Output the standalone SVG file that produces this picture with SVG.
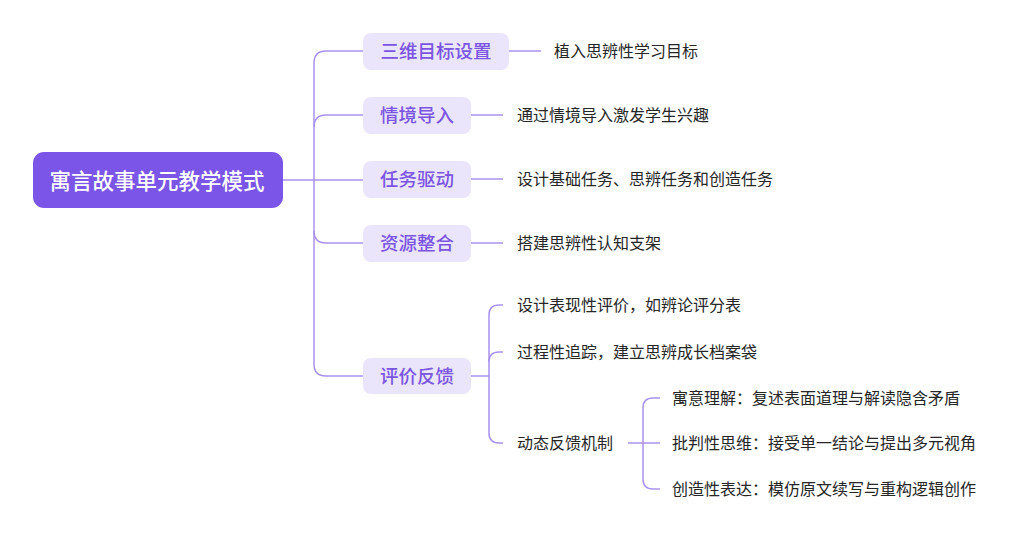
<svg xmlns="http://www.w3.org/2000/svg" width="1024" height="543" viewBox="0 0 1024 543">
<style>
.ln{fill:none;stroke:#a992ef;stroke-width:1.5}
.root{fill:#7a55e8}
.rt{fill:#ffffff;font-family:"Noto Sans CJK SC","Liberation Sans",sans-serif;font-size:21.5px;font-weight:500}
.br{fill:#ebe5fb}
.bt{fill:#7a55e0;font-family:"Noto Sans CJK SC","Liberation Sans",sans-serif;font-size:18.5px;font-weight:500}
.lt{fill:#262626;font-family:"Noto Sans CJK SC","Liberation Sans",sans-serif;font-size:16px}
</style>
<rect width="1024" height="543" fill="#ffffff"/>
<g id="connectors">
<path class="ln" d="M283 180 H363"/>
<path class="ln" d="M363 51 H326 Q314 51 314 63 V364 Q314 376 326 376 H363"/>
<path class="ln" d="M363 115 H326 Q314 115 314 127"/>
<path class="ln" d="M363 243 H326 Q314 243 314 231"/>
<path class="ln" d="M509 51 H541"/>
<path class="ln" d="M471 115 H503"/>
<path class="ln" d="M471 179 H503"/>
<path class="ln" d="M471 243 H503"/>
<path class="ln" d="M471 376 H489"/>
<path class="ln" d="M503 305 H499 Q489 305 489 315 V433 Q489 443 499 443 H503"/>
<path class="ln" d="M503 352 H499 Q489 352 489 362"/>
<path class="ln" d="M628 443 H660"/>
<path class="ln" d="M660 398 H653 Q643 398 643 408 V479 Q643 489 653 489 H660"/>
</g>
<g id="root">
<rect class="root" x="33" y="152" width="250" height="56" rx="11"/>
<text class="rt" x="157" y="179" text-anchor="middle" dominant-baseline="central">寓言故事单元教学模式</text>
</g>
<g id="b1">
<rect class="br" x="363" y="33" width="146" height="37" rx="8"/>
<text class="bt" x="436" y="50" text-anchor="middle" dominant-baseline="central">三维目标设置</text>
</g>
<g id="b2">
<rect class="br" x="363" y="97" width="108" height="37" rx="8"/>
<text class="bt" x="417" y="114" text-anchor="middle" dominant-baseline="central">情境导入</text>
</g>
<g id="b3">
<rect class="br" x="363" y="161" width="108" height="37" rx="8"/>
<text class="bt" x="417" y="178" text-anchor="middle" dominant-baseline="central">任务驱动</text>
</g>
<g id="b4">
<rect class="br" x="363" y="225" width="108" height="37" rx="8"/>
<text class="bt" x="417" y="242" text-anchor="middle" dominant-baseline="central">资源整合</text>
</g>
<g id="b5">
<rect class="br" x="363" y="358" width="108" height="36" rx="8"/>
<text class="bt" x="417" y="375" text-anchor="middle" dominant-baseline="central">评价反馈</text>
</g>
<g id="l1"><text class="lt" x="554" y="50" dominant-baseline="central">植入思辨性学习目标</text></g>
<g id="l2"><text class="lt" x="517" y="114" dominant-baseline="central">通过情境导入激发学生兴趣</text></g>
<g id="l3"><text class="lt" x="517" y="178" dominant-baseline="central">设计基础任务、思辨任务和创造任务</text></g>
<g id="l4"><text class="lt" x="517" y="242" dominant-baseline="central">搭建思辨性认知支架</text></g>
<g id="l5"><text class="lt" x="517" y="304" dominant-baseline="central">设计表现性评价，如辨论评分表</text></g>
<g id="l6"><text class="lt" x="517" y="351" dominant-baseline="central">过程性追踪，建立思辨成长档案袋</text></g>
<g id="l7"><text class="lt" x="517" y="442" dominant-baseline="central">动态反馈机制</text></g>
<g id="l8"><text class="lt" x="672" y="397" dominant-baseline="central">寓意理解：复述表面道理与解读隐含矛盾</text></g>
<g id="l9"><text class="lt" x="672" y="442" dominant-baseline="central">批判性思维：接受单一结论与提出多元视角</text></g>
<g id="l10"><text class="lt" x="672" y="488" dominant-baseline="central">创造性表达：模仿原文续写与重构逻辑创作</text></g>
</svg>
